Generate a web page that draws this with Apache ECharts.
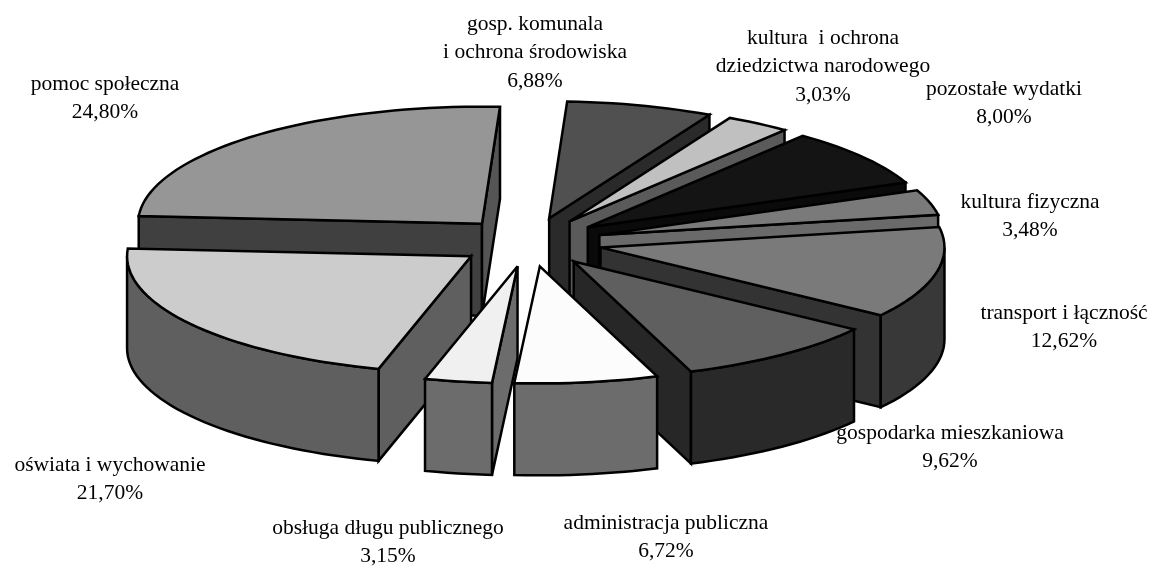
<!DOCTYPE html>
<html>
<head>
<meta charset="utf-8">
<style>
html, body { margin: 0; padding: 0; background: #fff; }
#main { width: 1151px; height: 566px; }
</style>
<script src="https://cdn.jsdelivr.net/npm/echarts@6/dist/echarts.min.js"></script>
</head>
<body>
<div id="main"></div>
<script>
// clockwise from the top of the pie
var categories = [
    'gosp. komunala\ni ochrona środowiska',
    'kultura  i ochrona\ndziedzictwa narodowego',
    'pozostałe wydatki',
    'kultura fizyczna',
    'transport i łączność',
    'gospodarka mieszkaniowa',
    'administracja publiczna',
    'obsługa długu publicznego',
    'oświata i wychowanie',
    'pomoc społeczna'
];
var shares = [6.88, 3.03, 8.00, 3.48, 12.62, 9.62, 6.72, 3.15, 21.70, 24.80];

// slice colours, same order as categories
var topColors = ['#505050', '#c0c0c0', '#141414', '#7a7a7a', '#7a7a7a', '#5f5f5f', '#fcfcfc', '#f0f0f0', '#cccccc', '#969696'];
var rimColors = ['#2a2a2a', '#5a5a5a', '#0a0a0a', '#6a6a6a', '#383838', '#292929', '#6c6c6c', '#6c6c6c', '#5f5f5f', '#404040'];
var wallColors = ['#2a2a2a', '#5a5a5a', '#0a0a0a', '#6a6a6a', '#333333', '#272727', '#6c6c6c', '#606060', '#555555', '#555555'];

// label centres, same order as categories
var labelCenters = [
    [535, 10], [823, 24], [1004, 75], [1030, 188], [1064, 299],
    [950, 419], [666, 509], [388, 514], [110, 451], [105, 70]
];

var CX = 530, CY = 242, RX = 344, RY = 117, DEPTH = 92, EXPLODE = 0.21, START = 3;

var slices = [];
var acc = START;
for (var i = 0; i < shares.length; i++) {
    var sweep = shares[i] * 3.6;
    slices.push({index: i, from: acc, to: acc + sweep, mid: acc + sweep / 2});
    acc += sweep;
}

// back slices are painted first
var paintOrder = slices.slice().sort(function (a, b) {
    return Math.cos(b.mid * Math.PI / 180) - Math.cos(a.mid * Math.PI / 180);
});

function onRim(apex, deg) {
    var r = deg * Math.PI / 180;
    return [apex[0] + RX * Math.sin(r), apex[1] - RY * Math.cos(r)];
}

function arcPoints(apex, from, to) {
    var pts = [], steps = Math.max(2, Math.ceil((to - from) / 2));
    for (var k = 0; k <= steps; k++) {
        pts.push(onRim(apex, from + (to - from) * k / steps));
    }
    return pts;
}

function drop(p) {
    return [p[0], p[1] + DEPTH];
}

function face(points, fill) {
    return {
        type: 'polygon',
        shape: {points: points},
        style: {fill: fill, stroke: '#000', lineWidth: 2.5, lineJoin: 'miter', miterLimit: 4}
    };
}

// true when the cut wall from apex to rim point looks towards the viewer
function wallVisible(deg, side) {
    return Math.sin(deg * Math.PI / 180) * side > 0;
}

function renderSlice(params, api) {
    var s = slices[api.value(0)];
    var i = s.index;
    var m = s.mid * Math.PI / 180;
    var apex = [CX + EXPLODE * RX * Math.sin(m), CY - EXPLODE * RY * Math.cos(m)];
    var a = onRim(apex, s.from), b = onRim(apex, s.to);
    var children = [];

    // cut walls: the start edge shows on the left half, the end edge on the right
    if (wallVisible(s.from, -1)) {
        children.push(face([apex, a, drop(a), drop(apex)], rimColors[i]));
    }
    if (wallVisible(s.to, 1)) {
        children.push(face([apex, b, drop(b), drop(apex)], wallColors[i]));
    }
    // outer rim, front half only
    var f = Math.max(s.from, 90), t = Math.min(s.to, 270);
    if (t > f) {
        var upper = arcPoints(apex, f, t);
        children.push(face(upper.concat(upper.slice().reverse().map(drop)), rimColors[i]));
    }
    children.push(face([apex].concat(arcPoints(apex, s.from, s.to)), topColors[i]));
    return {type: 'group', children: children};
}

function percentText(v) {
    return v.toFixed(2).replace('.', ',') + '%';
}

var labels = categories.map(function (name, i) {
    return {
        type: 'text',
        x: labelCenters[i][0],
        y: labelCenters[i][1],
        z: 100,
        style: {
            text: name + '\n' + percentText(shares[i]),
            font: '21.5px "Liberation Serif", "Times New Roman", serif',
            lineHeight: 28.5,
            fill: '#000',
            align: 'center',
            verticalAlign: 'top'
        }
    };
});

var chart = echarts.init(document.getElementById('main'), null, {renderer: 'canvas'});
chart.setOption({
    animation: false,
    backgroundColor: '#fff',
    series: [{
        type: 'custom',
        coordinateSystem: 'none',
        silent: true,
        clip: false,
        renderItem: renderSlice,
        data: paintOrder.map(function (s) { return [s.index, shares[s.index]]; })
    }],
    graphic: labels
});
</script>
</body>
</html>
